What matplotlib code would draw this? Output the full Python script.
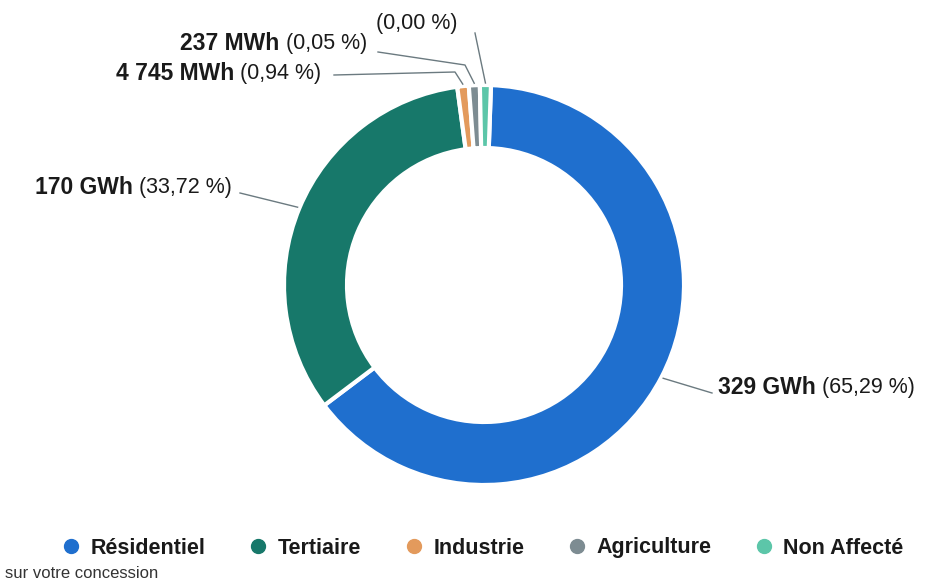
import matplotlib.pyplot as plt
import numpy as np
from matplotlib.lines import Line2D

plt.rcParams['font.family'] = ['Liberation Sans', 'DejaVu Sans']

# data
categories = ['Résidentiel', 'Tertiaire', 'Industrie', 'Agriculture', 'Non Affecté']
percents = [65.29, 33.72, 0.94, 0.05, 0.00]
energy = ['329 GWh', '170 GWh', '4 745 MWh', '237 MWh', '']
pct_labels = ['(65,29 %)', '(33,72 %)', '(0,94 %)', '(0,05 %)', '(0,00 %)']
colors = ['#1f6fce', '#17786a', '#e39a5c', '#7d8c92', '#5cc6a9']

# tiny slices get a minimum visible size, like in the original
shown = [max(p, 0.9) for p in percents]

fig = plt.figure(figsize=(9.28, 5.82), dpi=100)
ax = fig.add_axes([0, 0, 1, 1])

cx, cy, R = 484, 297, 200
wedges, _ = ax.pie(shown, colors=colors, startangle=88, counterclock=False,
                   center=(cx, cy), radius=R, frame=True,
                   wedgeprops=dict(width=63, edgecolor='white', linewidth=3))
ax.set_xlim(0, 928)
ax.set_ylim(0, 582)
ax.set_aspect('equal')
ax.axis('off')

def edge_pt(w, r=R + 2):
    a = np.deg2rad((w.theta1 + w.theta2) / 2)
    return cx + r * np.cos(a), cy + r * np.sin(a)

line_col = '#6b7a80'
txt_col = '#1a1a1a'
fs = 15.5
# text anchor and leader line bend points (pixel coords, y from top)
layout = [
    dict(tx=718, ty=388, ha='left', path=[(712, 393)]),
    dict(tx=232, ty=188, ha='right', path=[(240, 193)]),
    dict(tx=321, ty=73, ha='right', path=[(334, 75), (455, 72)]),
    dict(tx=367, ty=44, ha='right', path=[(378, 52), (465, 65)]),
    dict(tx=458, ty=24, ha='right', path=[(475, 33)]),
]

for w, e, p, lay in zip(wedges, energy, pct_labels, layout):
    x0, y0 = edge_pt(w)
    pts = [(x, 582 - y) for x, y in lay['path']] + [(x0, y0)]
    xs, ys = zip(*pts)
    ax.plot(xs, ys, color=line_col, lw=1.0)
    ty = 582 - lay['ty']
    if lay['ha'] == 'left':
        t1 = ax.text(lay['tx'], ty, e, fontsize=fs + 1, fontweight='bold',
                     ha='left', va='center', color=txt_col)
        fig.canvas.draw()
        bb = t1.get_window_extent().transformed(ax.transData.inverted())
        ax.text(bb.x1 + 6, ty, p, fontsize=fs, ha='left', va='center', color=txt_col)
    else:
        t2 = ax.text(lay['tx'], ty, p, fontsize=fs, ha='right', va='center', color=txt_col)
        if e:
            fig.canvas.draw()
            bb = t2.get_window_extent().transformed(ax.transData.inverted())
            ax.text(bb.x0 - 6, ty, e, fontsize=fs + 1, fontweight='bold',
                    ha='right', va='center', color=txt_col)

handles = [Line2D([], [], marker='o', ls='', markersize=10, color=c) for c in colors]
leg = fig.legend(handles, categories, loc='center', bbox_to_anchor=(481 / 928, 1 - 548 / 582),
                 ncol=5, frameon=False, handletextpad=0.3, columnspacing=1.85,
                 handlelength=1.2, prop=dict(weight='bold', size=15.5))
for t in leg.get_texts():
    t.set_color(txt_col)

ax.text(5, 582 - 574, 'sur votre concession', fontsize=12, color='#333333',
        ha='left', va='center')

fig.savefig('out.png', dpi=100)
